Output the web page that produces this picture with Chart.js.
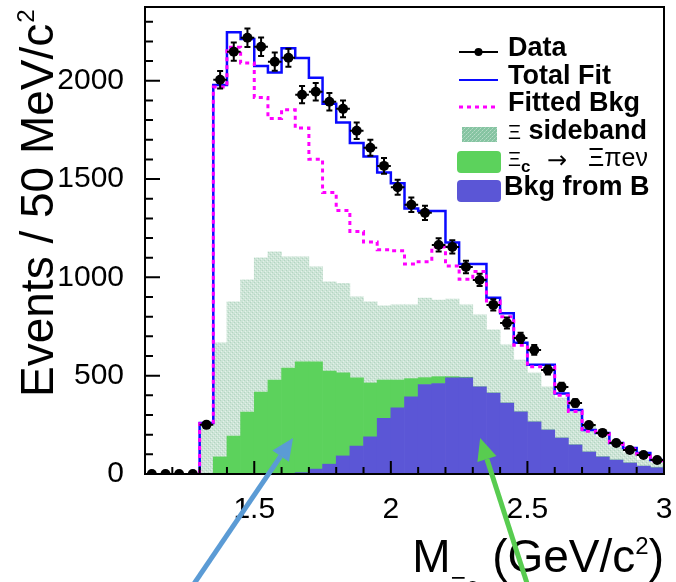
<!DOCTYPE html>
<html>
<head>
<meta charset="utf-8">
<script src="https://cdn.jsdelivr.net/npm/chart.js@4.4.1/dist/chart.umd.min.js"></script>
<style>
  html, body { margin: 0; padding: 0; background: #fff; }
  #wrap { width: 676px; height: 582px; }
</style>
</head>
<body>
<div id="wrap"><canvas id="myChart" width="676" height="582"></canvas></div>
<script>
// 50 MeV bins, lower edges (GeV/c2)
const binLow = [1.10,1.15,1.20,1.25,1.30,1.35,1.40,1.45,1.50,1.55,1.60,1.65,1.70,1.75,1.80,1.85,1.90,1.95,
                2.00,2.05,2.10,2.15,2.20,2.25,2.30,2.35,2.40,2.45,2.50,2.55,2.60,2.65,2.70,2.75,2.80,2.85,2.90,2.95];
const binWidth = 0.05;

const dataCounts = [0,0,0,0,250,2005,2148,2219,2173,2097,2117,1929,1944,1893,1857,1746,1659,1567,
                    1458,1369,1328,1165,1155,1053,987,860,768,692,631,529,443,361,249,209,158,122,97,71];
const dataErrors = [0,0,0,0,16,45,46,47,47,46,46,44,44,44,43,42,41,40,
                    38,37,36,34,34,32,31,29,28,26,25,23,21,19,16,14,13,11,10,8];
const totalFit   = [0,0,0,0,260,1978,2247,2212,2075,2042,2165,2115,2015,1883,1788,1683,1615,1533,
                    1479,1350,1338,1338,1177,1068,1068,896,818,667,555,555,410,325,224,209,158,132,107,71];
const fittedBkg  = [0,0,0,0,255,1968,2170,2090,1915,1808,1852,1760,1601,1431,1340,1233,1180,1140,
                    1135,1068,1080,1155,1058,990,1030,880,800,655,545,545,400,318,218,203,152,127,102,68];
// stacked components: B background (bottom), Xi_c semileptonic, Xi sideband (top)
const bkgFromB   = [0,0,0,0,0,0,0,0,0,0,0,7,25,50,92,142,189,283,
                    336,392,455,460,489,489,443,412,361,316,265,224,183,148,112,87,71,56,40,32];
const xicSemilep = [0,0,0,0,0,87,193,315,417,478,539,563,545,474,422,347,274,195,
                    142,93,35,35,6,3,0,0,0,0,0,0,0,0,0,0,0,0,0,0];
const xiSideband = [0,0,0,0,240,580,682,672,682,652,565,534,483,453,456,412,412,377,
                    382,375,405,390,395,368,366,321,296,264,249,219,204,168,137,102,67,51,31,24];

const xTickLabels = [1.5, 2, 2.5, 3];
const yTickLabels = [0, 500, 1000, 1500, 2000];

// annotation arrows, in axis units (tail, tip)
const arrows = [
    { from: [1.21, -700], to: [1.642, 183], color: '#5b9bd5' },
    { from: [2.532, -700], to: [2.327, 183], color: '#58cc50' }
];

const FONT = '"Liberation Sans", Arial, Helvetica, sans-serif';

function centers(values) {
    return values.map((v, i) => ({ x: binLow[i] + binWidth / 2, y: v }));
}
// point at the upper edge of each bin, drawn with stepped:'after'
function stepPoints(values) {
    const pts = [];
    values.forEach(function (v, i) {
        if (v === 0 && i + 1 < values.length && values[i + 1] === 0) return;
        pts.push({ x: binLow[i] + binWidth, y: v });
    });
    return pts;
}

function makePattern(base, dot, light) {
    const c = document.createElement('canvas');
    c.width = 4; c.height = 4;
    const g = c.getContext('2d');
    g.fillStyle = base; g.fillRect(0, 0, 4, 4);
    g.fillStyle = dot; g.fillRect(0, 0, 1, 1); g.fillRect(2, 2, 1, 1);
    g.fillStyle = light; g.fillRect(1, 3, 1, 1); g.fillRect(3, 1, 1, 1);
    return g.createPattern(c, 'repeat');
}
const sidebandFill = makePattern('#cce4d6', '#b3d5c1', '#e4f1e9');
const sidebandLegend = makePattern('#86c4a2', '#b7dcc7', '#9fd1b5');

const errorBars = {
    id: 'errorBars',
    afterDatasetsDraw(chart) {
        const ctx = chart.ctx, xs = chart.scales.x, ys = chart.scales.y;
        ctx.save();
        ctx.strokeStyle = '#000';
        ctx.lineWidth = 2;
        ctx.beginPath();
        dataCounts.forEach(function (n, i) {
            const cx = xs.getPixelForValue(binLow[i] + binWidth / 2);
            const cy = ys.getPixelForValue(n);
            ctx.moveTo(xs.getPixelForValue(binLow[i]), cy);
            ctx.lineTo(xs.getPixelForValue(binLow[i] + binWidth), cy);
            if (dataErrors[i] > 0) {
                const y1 = ys.getPixelForValue(n - dataErrors[i]);
                const y2 = ys.getPixelForValue(n + dataErrors[i]);
                ctx.moveTo(cx, y1); ctx.lineTo(cx, y2);
                ctx.moveTo(cx - 3, y1); ctx.lineTo(cx + 3, y1);
                ctx.moveTo(cx - 3, y2); ctx.lineTo(cx + 3, y2);
            }
        });
        ctx.stroke();
        ctx.restore();
    }
};

function drawArrow(ctx, x1, y1, x2, y2, color) {
    const ang = Math.atan2(y2 - y1, x2 - x1);
    const head = 22, half = 10;
    const bx = x2 - head * Math.cos(ang), by = y2 - head * Math.sin(ang);
    ctx.save();
    ctx.strokeStyle = color; ctx.fillStyle = color;
    ctx.lineWidth = 5;
    ctx.beginPath(); ctx.moveTo(x1, y1); ctx.lineTo(bx, by); ctx.stroke();
    ctx.beginPath();
    ctx.moveTo(x2, y2);
    ctx.lineTo(bx + half * Math.sin(ang), by - half * Math.cos(ang));
    ctx.lineTo(bx - half * Math.sin(ang), by + half * Math.cos(ang));
    ctx.closePath(); ctx.fill();
    ctx.restore();
}

function roundBox(ctx, x, y, w, h, r, fill) {
    ctx.beginPath();
    ctx.moveTo(x + r, y); ctx.lineTo(x + w - r, y); ctx.quadraticCurveTo(x + w, y, x + w, y + r);
    ctx.lineTo(x + w, y + h - r); ctx.quadraticCurveTo(x + w, y + h, x + w - r, y + h);
    ctx.lineTo(x + r, y + h); ctx.quadraticCurveTo(x, y + h, x, y + h - r);
    ctx.lineTo(x, y + r); ctx.quadraticCurveTo(x, y, x + r, y);
    ctx.fillStyle = fill; ctx.fill();
}

const rootDecor = {
    id: 'rootDecor',
    afterDraw(chart) {
        const ctx = chart.ctx, xs = chart.scales.x, ys = chart.scales.y, a = chart.chartArea;
        ctx.save();
        // frame + inner ticks
        ctx.strokeStyle = '#000';
        ctx.lineWidth = 2;
        ctx.strokeRect(a.left, a.top, a.right - a.left, a.bottom - a.top);
        ctx.beginPath();
        for (let k = 12; k <= 29; k++) {
            const px = xs.getPixelForValue(k / 10);
            ctx.moveTo(px, a.bottom); ctx.lineTo(px, a.bottom - (k % 5 === 0 ? 13 : 7));
        }
        for (let v = 100; v < ys.max; v += 100) {
            const py = ys.getPixelForValue(v);
            ctx.moveTo(a.left, py); ctx.lineTo(a.left + (v % 500 === 0 ? 15 : 8), py);
        }
        ctx.stroke();

        // y title
        ctx.fillStyle = '#000';
        ctx.save();
        ctx.translate(53, 397);
        ctx.rotate(-Math.PI / 2);
        ctx.textAlign = 'left'; ctx.textBaseline = 'alphabetic';
        ctx.font = '46px ' + FONT;
        const yt = 'Events / 50 MeV/c';
        ctx.fillText(yt, 0, 0);
        const ytw = ctx.measureText(yt).width;
        ctx.font = '24px ' + FONT;
        ctx.fillText('2', ytw + 1, -19);
        ctx.restore();

        // x title: M_{Xi e} (GeV/c^2), right aligned to the frame
        ctx.textAlign = 'left'; ctx.textBaseline = 'alphabetic';
        const base = 572;
        const parts = [
            { t: 'M', f: '46px ', dy: 0 },
            { t: 'Ξe', f: '24px ', dy: 22 },
            { t: ' (GeV/c', f: '46px ', dy: 0 },
            { t: '2', f: '24px ', dy: -18 },
            { t: ')', f: '46px ', dy: 0 }
        ];
        let tot = 0;
        parts.forEach(function (p) { ctx.font = p.f + FONT; p.w = ctx.measureText(p.t).width; tot += p.w; });
        let xx = a.right - tot;
        parts.forEach(function (p) { ctx.font = p.f + FONT; ctx.fillText(p.t, xx, base + p.dy); xx += p.w; });

        // legend
        const sx1 = 459, sx2 = 498, tx = 508;
        const rows = [52, 80, 107, 135, 162, 191];
        ctx.lineWidth = 2;
        ctx.strokeStyle = '#000';
        ctx.beginPath(); ctx.moveTo(sx1, rows[0]); ctx.lineTo(sx2, rows[0]); ctx.stroke();
        ctx.beginPath(); ctx.arc((sx1 + sx2) / 2, rows[0], 4, 0, Math.PI * 2); ctx.fillStyle = '#000'; ctx.fill();
        ctx.strokeStyle = '#0a0aff';
        ctx.beginPath(); ctx.moveTo(sx1, rows[1]); ctx.lineTo(sx2, rows[1]); ctx.stroke();
        ctx.strokeStyle = '#ff00ff'; ctx.lineWidth = 3; ctx.setLineDash([4, 4]);
        ctx.beginPath(); ctx.moveTo(sx1, rows[2]); ctx.lineTo(sx2, rows[2]); ctx.stroke();
        ctx.setLineDash([]);
        ctx.fillStyle = sidebandLegend; ctx.fillRect(462, 127, 35, 15);
        roundBox(ctx, 457, 151, 44, 22, 4, '#5cd25c');
        roundBox(ctx, 457, 180, 44, 22, 4, '#5b56d6');

        ctx.fillStyle = '#000';
        const bold = 'bold 27px ' + FONT;
        ctx.font = bold;
        ctx.fillText('Data', tx, rows[0] + 4);
        ctx.fillText('Total Fit', tx, rows[1] + 4);
        ctx.fillText('Fitted Bkg', tx, rows[2] + 4);
        ctx.font = '20px ' + FONT;
        ctx.fillText('Ξ', tx, rows[3] + 4);
        let w = ctx.measureText('Ξ').width;
        ctx.font = bold;
        ctx.fillText(' sideband', tx + w, rows[3] + 4);
        ctx.font = '20px ' + FONT;
        ctx.fillText('Ξ', tx, rows[4] + 4);
        ctx.font = 'bold 17px ' + FONT;
        ctx.fillText('c', tx + w, rows[4] + 10);
        ctx.font = '24px "DejaVu Sans", sans-serif';
        ctx.fillText('→', 547, rows[4] + 6);
        ctx.font = '25px ' + FONT;
        ctx.fillText('Ξπeν', 588, rows[4] + 4);
        ctx.font = bold;
        ctx.fillText('Bkg from B', 504, rows[5] + 4);

        // arrows
        arrows.forEach(function (ar) {
            drawArrow(ctx,
                xs.getPixelForValue(ar.from[0]), ys.getPixelForValue(ar.from[1]),
                xs.getPixelForValue(ar.to[0]), ys.getPixelForValue(ar.to[1]), ar.color);
        });
        ctx.restore();
    }
};

const ctx = document.getElementById('myChart').getContext('2d');
const myChart = new Chart(ctx, {
    type: 'bar',
    data: {
        datasets: [
            {
                type: 'line', label: 'Data', data: centers(dataCounts), stack: 'data',
                showLine: false, pointRadius: 5, pointBackgroundColor: '#000', pointBorderWidth: 0
            },
            {
                type: 'line', label: 'Fitted Bkg', data: stepPoints(fittedBkg), stack: 'bkg',
                stepped: 'after', borderColor: '#ff00ff', borderWidth: 3, borderDash: [4, 4],
                pointRadius: 0, fill: false
            },
            {
                type: 'line', label: 'Total Fit', data: stepPoints(totalFit), stack: 'fit',
                stepped: 'after', borderColor: '#0a0aff', borderWidth: 2.5,
                pointRadius: 0, fill: false
            },
            {
                label: 'Bkg from B', data: centers(bkgFromB), stack: 'fill',
                backgroundColor: '#5b56d6', borderWidth: 0, barPercentage: 1, categoryPercentage: 1
            },
            {
                label: 'Xi_c -> Xi pi e nu', data: centers(xicSemilep), stack: 'fill',
                backgroundColor: '#5cd25c', borderWidth: 0, barPercentage: 1, categoryPercentage: 1
            },
            {
                label: 'Xi sideband', data: centers(xiSideband), stack: 'fill',
                backgroundColor: sidebandFill, borderWidth: 0, barPercentage: 1, categoryPercentage: 1
            }
        ]
    },
    options: {
        responsive: false,
        animation: false,
        devicePixelRatio: 1,
        layout: { padding: { top: 7, right: 12, left: 0, bottom: 0 } },
        plugins: { legend: { display: false }, tooltip: { enabled: false } },
        scales: {
            x: {
                type: 'linear', min: 1.1, max: 3.0, offset: false,
                grid: { display: false }, border: { display: false },
                afterBuildTicks: function (s) { s.ticks = xTickLabels.map(v => ({ value: v })); },
                afterFit: function (s) { s.height = 108; s.paddingLeft = 0; s.paddingRight = 0; },
                ticks: {
                    color: '#000', padding: 10, maxRotation: 0, autoSkip: false,
                    font: { family: FONT, size: 30 },
                    callback: v => String(v)
                }
            },
            y: {
                stacked: true, min: 0, max: 2375,
                grid: { display: false }, border: { display: false },
                afterBuildTicks: function (s) { s.ticks = yTickLabels.map(v => ({ value: v })); },
                afterFit: function (s) { s.width = 145; s.paddingTop = 0; s.paddingBottom = 0; },
                ticks: {
                    color: '#000', padding: 13,
                    font: { family: FONT, size: 30 },
                    callback: v => String(v)
                }
            }
        }
    },
    plugins: [errorBars, rootDecor]
});
</script>
</body>
</html>
